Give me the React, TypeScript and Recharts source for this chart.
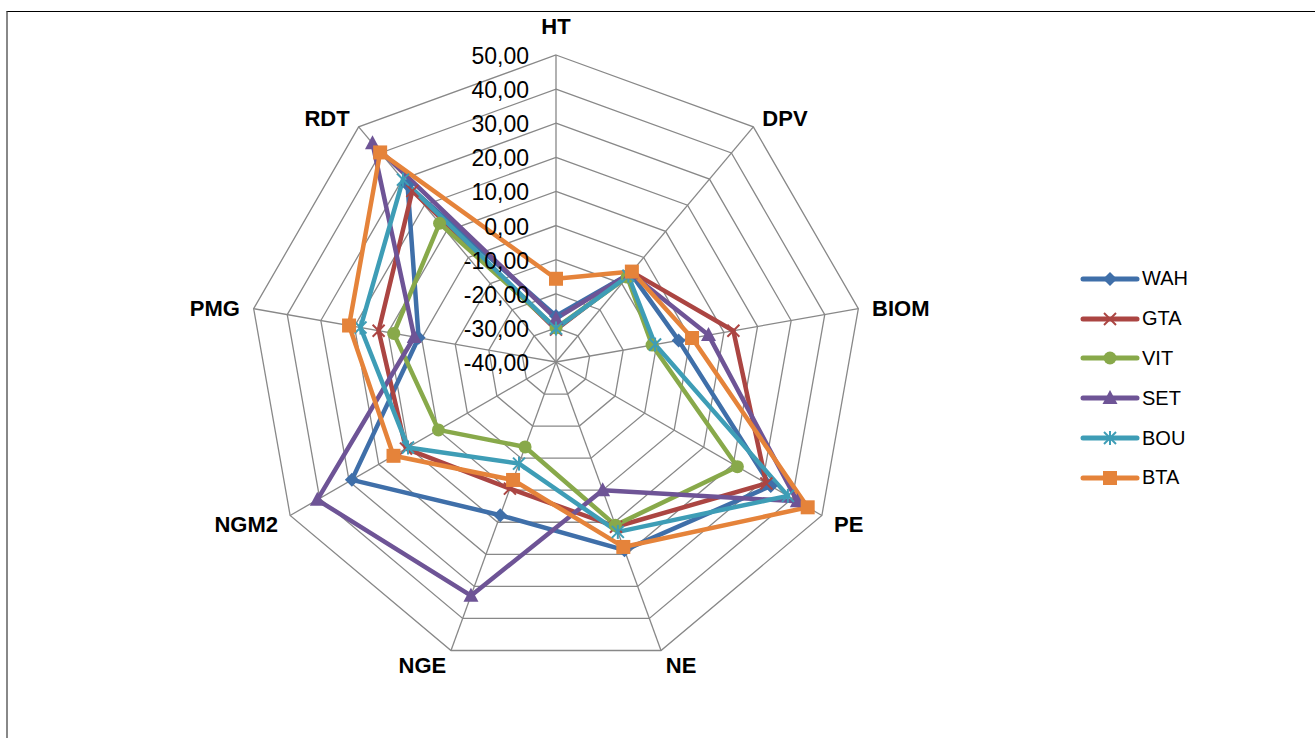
import React from 'react';
import { Legend, PolarAngleAxis, PolarGrid, PolarRadiusAxis, Radar, RadarChart } from 'recharts';

const categories = ['HT', 'DPV', 'BIOM', 'PE', 'NE', 'NGE', 'NGM2', 'PMG', 'RDT'];

const wah = [-26.5, -6, -3.5, 32.7, 18.7, 7.8, 29.1, 0.9, 27.7];
const gta = [-30.5, -5.5, 12.8, 31.2, 11.4, -0.5, 10.8, 12.8, 25.5];
const vit = [-30, -7.5, -11.4, 21.4, 10.9, -13.5, -0.2, 8.3, 13.1];
const set = [-27.3, -6, 5.4, 41.7, 0, 32.9, 40.8, 2.2, 43.7];
const bou = [-30.2, -7, -10.5, 38.5, 13, -8.3, 10.1, 18.2, 29.8];
const bta = [-15.6, -5.4, 0.5, 45.2, 17.7, -3.2, 15, 21.6, 40.2];

const radiusTicks = [-40, -30, -20, -10, 0, 10, 20, 30, 40, 50];

type Shape = 'diamond' | 'x' | 'circle' | 'triangle' | 'asterisk' | 'square';

const series: { name: string; values: number[]; color: string; shape: Shape }[] = [
    { name: 'WAH', values: wah, color: '#3f6fa9', shape: 'diamond' },
    { name: 'GTA', values: gta, color: '#ab4542', shape: 'x' },
    { name: 'VIT', values: vit, color: '#88a94a', shape: 'circle' },
    { name: 'SET', values: set, color: '#6e5496', shape: 'triangle' },
    { name: 'BOU', values: bou, color: '#3e9db6', shape: 'asterisk' },
    { name: 'BTA', values: bta, color: '#e5833a', shape: 'square' },
];

const data = categories.map((cat, i) => {
    const row: Record<string, any> = { cat };
    series.forEach((s) => {
        row[s.name] = s.values[i];
    });
    return row;
});

const CX = 556;
const CY = 362;
const R = 307;
const FONT = '"Liberation Sans", Arial, sans-serif';

function marker(shape: Shape, color: string, x: number, y: number, key?: string) {
    switch (shape) {
        case 'diamond':
            return <polygon key={key} points={`${x},${y - 7} ${x + 7},${y} ${x},${y + 7} ${x - 7},${y}`} fill={color} />;
        case 'x':
            return (
                <g key={key} stroke={color} strokeWidth={2}>
                    <line x1={x - 6} y1={y - 6} x2={x + 6} y2={y + 6} />
                    <line x1={x - 6} y1={y + 6} x2={x + 6} y2={y - 6} />
                </g>
            );
        case 'circle':
            return <circle key={key} cx={x} cy={y} r={6.5} fill={color} />;
        case 'triangle':
            return <polygon key={key} points={`${x},${y - 8} ${x + 7.5},${y + 6} ${x - 7.5},${y + 6}`} fill={color} />;
        case 'asterisk':
            return (
                <g key={key} stroke={color} strokeWidth={2}>
                    <line x1={x - 6} y1={y - 6} x2={x + 6} y2={y + 6} />
                    <line x1={x - 6} y1={y + 6} x2={x + 6} y2={y - 6} />
                    <line x1={x} y1={y - 7} x2={x} y2={y + 7} />
                </g>
            );
        default:
            return <rect key={key} x={x - 7} y={y - 7} width={14} height={14} fill={color} />;
    }
}

// category labels sit just past each vertex, Excel-style: start on the right, end on the left
const AngleTick = (props: any) => {
    const label = String(props.payload?.value ?? '');
    const i = categories.indexOf(label);
    const a = ((90 - (360 * i) / categories.length) * Math.PI) / 180;
    const c = Math.cos(a);
    const s = Math.sin(a);
    const vx = CX + c * R;
    const vy = CY - s * R;
    if (i === 0) {
        return (
            <text x={vx} y={vy - 21} textAnchor="middle" fontFamily={FONT} fontWeight="bold" fontSize={22} fill="#000">
                {label}
            </text>
        );
    }
    const d = 14;
    return (
        <text
            x={vx + c * d}
            y={vy - s * d + 2}
            textAnchor={c > 0 ? 'start' : 'end'}
            dominantBaseline="central"
            fontFamily={FONT}
            fontWeight="bold"
            fontSize={22}
            fill="#000"
        >
            {label}
        </text>
    );
};

const RadiusTick = (props: any) => {
    const v = Number(props.payload?.value);
    return (
        <text x={CX - 27} y={props.y + 1} textAnchor="end" dominantBaseline="central" fontFamily={FONT} fontSize={23} fill="#000">
            {v.toFixed(2).replace('.', ',')}
        </text>
    );
};

const LegendContent = () => (
    <div style={{ fontFamily: FONT, fontSize: 20 }}>
        {series.map((s) => (
            <div key={s.name} style={{ display: 'flex', alignItems: 'center', height: 39.8 }}>
                <svg width={60} height={20} style={{ marginRight: 2 }}>
                    <line x1={3} y1={10} x2={57} y2={10} stroke={s.color} strokeWidth={5} strokeLinecap="round" />
                    {marker(s.shape, s.color, 30, 10)}
                </svg>
                <span>{s.name}</span>
            </div>
        ))}
    </div>
);

export default function App() {
    return (
        <div style={{ position: 'absolute', left: 0, top: 0, width: 1315, height: 738, background: '#fff' }}>
            <div
                style={{
                    position: 'absolute',
                    left: 6,
                    top: 11,
                    width: 1309,
                    height: 727,
                    borderTop: '1px solid #000',
                    borderLeft: '2px solid #888',
                    boxSizing: 'border-box',
                }}
            />
            <div style={{ position: 'absolute', left: 0, top: 0 }}>
                <RadarChart width={1315} height={738} data={data} cx={CX} cy={CY} outerRadius={R} margin={{ top: 0, right: 0, bottom: 0, left: 0 }}>
                    <PolarGrid gridType="polygon" stroke="#888" strokeWidth={1.3} />
                    <PolarAngleAxis dataKey="cat" tick={AngleTick} tickLine={false} axisLine={false} />
                    <PolarRadiusAxis
                        angle={90}
                        domain={[-40, 50]}
                        ticks={radiusTicks as any}
                        tickCount={10}
                        tick={RadiusTick}
                        tickLine={false}
                        axisLine={false}
                    />
                    {series.map((s) => (
                        <Radar
                            key={s.name}
                            name={s.name}
                            dataKey={s.name}
                            stroke={s.color}
                            strokeWidth={4.5}
                            strokeLinejoin="round"
                            fill="none"
                            fillOpacity={0}
                            isAnimationActive={false}
                            dot={(p: any) => marker(s.shape, s.color, p.cx, p.cy, `${s.name}-${p.index}`)}
                        />
                    ))}
                    <Legend
                        layout="vertical"
                        content={LegendContent}
                        wrapperStyle={{ position: 'absolute', left: 1080, top: 259, width: 160 }}
                    />
                </RadarChart>
            </div>
        </div>
    );
}
